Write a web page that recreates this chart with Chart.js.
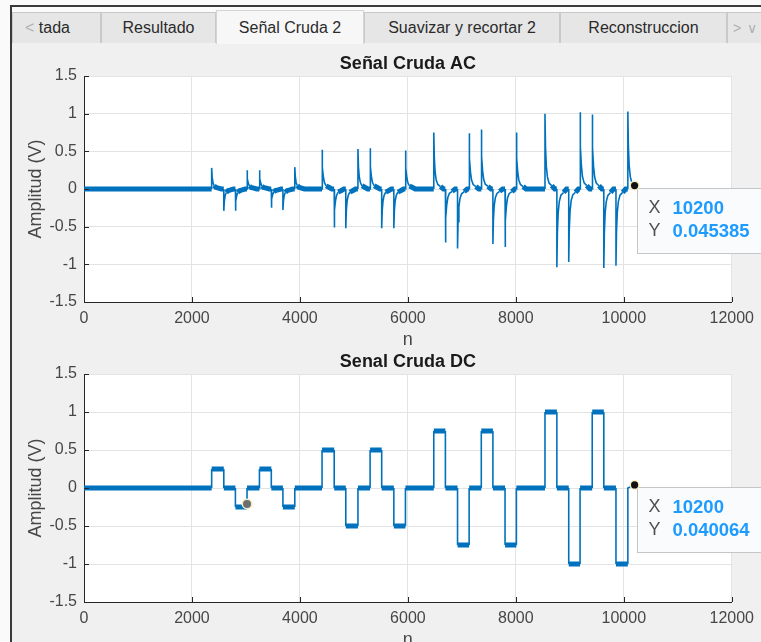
<!DOCTYPE html>
<html>
<head>
<meta charset="utf-8">
<script src="https://cdn.jsdelivr.net/npm/chart.js@4.4.0/dist/chart.umd.min.js"></script>
<style>
  html, body { margin: 0; padding: 0; width: 761px; height: 642px; overflow: hidden; background: #fafafa;
    font-family: 'Liberation Sans', Arial, sans-serif; }
  #frame { position: absolute; left: 10px; top: 5px; width: 760px; height: 650px;
    border-left: 2px solid #3a3a3a; border-top: 2px solid #3a3a3a; background: #f0f0f0; }
  #tabs { position: absolute; left: 0; top: 0; width: 760px; height: 36px; background: #fafafa; }
  .tab { position: absolute; top: 5px; height: 31px; line-height: 30px; background: #e6e6e6;
    border: 1px solid #c9c9c9; border-bottom: none; color: #2b2b2b; font-size: 16px; text-align: center;
    box-sizing: border-box; white-space: nowrap; }
  .tab.on { background: #f7f7f7; top: 3px; height: 34px; line-height: 34px; border-color: #d4d4d4; }
  .arrow { color: #b0b0b0; }
  canvas { position: absolute; }
</style>
</head>
<body>
<div id="frame">
  <div id="tabs">
    <div class="tab" style="left:0;width:89px;text-align:left;padding-left:12px"><span class="arrow">&lt;</span> tada</div>
    <div class="tab" style="left:89px;width:115px">Resultado</div>
    <div class="tab on" style="left:204px;width:148px">Señal Cruda 2</div>
    <div class="tab" style="left:352px;width:196px">Suavizar y recortar 2</div>
    <div class="tab" style="left:548px;width:167px">Reconstruccion</div>
    <div class="tab" style="left:715px;width:50px;text-align:left;padding-left:5px"><span class="arrow" style="font-size:14px">&gt;<span style="margin-left:6px">&or;</span></span></div>
  </div>
</div>
<canvas id="acChart" width="747" height="308" style="left:14px;top:46px"></canvas>
<canvas id="dcChart" width="747" height="310" style="left:14px;top:344px"></canvas>
<script>
// sample index where the raw signal switches level
const edgeN = [2365, 2590, 2805, 3020, 3250, 3470, 3685, 3905,
               4410, 4635, 4850, 5075, 5300, 5515, 5740, 5955,
               6480, 6695, 6920, 7135, 7360, 7575, 7800, 8010,
               8540, 8760, 8980, 9190, 9415, 9630, 9855, 10075];
// DC level held after each switch (V)
const dcLevel = [0.25, 0, -0.25, 0, 0.25, 0, -0.25, 0,
                 0.5, 0, -0.5, 0, 0.5, 0, -0.5, 0,
                 0.75, 0, -0.75, 0, 0.75, 0, -0.75, 0,
                 1, 0, -1, 0, 1, 0, -1, 0];
// AC spike peak at each switch (V)
const acPeak = [0.28, -0.29, -0.29, 0.25, 0.25, -0.25, -0.28, 0.29,
                0.52, -0.51, -0.52, 0.53, 0.54, -0.52, -0.52, 0.51,
                0.75, -0.71, -0.79, 0.74, 0.79, -0.73, -0.77, 0.75,
                1.0, -1.04, -0.97, 1.02, 0.99, -1.05, -1.02, 1.03];
// spike decay: samples after the edge, and fraction of the peak left
const tailN = [0, 10, 25, 45, 75, 125, 180];
const tailFrac = [1, 0.55, 0.3, 0.16, 0.08, 0.044, 0];

const lastN = 10200;
const acLast = 0.045385;
const dcLast = 0.040064;
const dcMarkN = 3020;
const dcMarkV = -0.21;

const xTicks = [0, 2000, 4000, 6000, 8000, 10000, 12000];
const yTicks = [-1.5, -1, -0.5, 0, 0.5, 1, 1.5];

const BLUE = 'rgb(0,114,189)';
Chart.defaults.font.family = "'Liberation Sans', Arial, sans-serif";

function buildAC() {
  const pts = [{x: 0, y: 0}];
  edgeN.forEach((e, i) => {
    pts.push({x: e, y: 0});
    for (let k = 0; k < tailN.length; k++) {
      const x = e + tailN[k];
      if (x >= lastN) break;
      pts.push({x: x, y: acPeak[i] * tailFrac[k]});
    }
  });
  pts.push({x: lastN, y: acLast});
  return pts;
}

function buildDC() {
  const pts = [{x: 0, y: 0}];
  let level = 0;
  edgeN.forEach((e, i) => {
    pts.push({x: e, y: level});
    pts.push({x: e, y: dcLevel[i]});
    level = dcLevel[i];
  });
  pts.push({x: lastN, y: dcLast});
  return pts;
}

// white plot box, bold title, inward ticks, data tips
const axesDecor = {
  id: 'axesDecor',
  beforeDraw(chart) {
    const a = chart.chartArea, ctx = chart.ctx;
    ctx.save(); ctx.fillStyle = '#ffffff';
    ctx.fillRect(a.left, a.top, a.right - a.left, a.bottom - a.top);
    ctx.restore();
  },
  afterDraw(chart, args, opts) {
    const a = chart.chartArea, ctx = chart.ctx;
    const xs = chart.scales.x, ys = chart.scales.y;
    ctx.save();
    ctx.strokeStyle = '#262626'; ctx.lineWidth = 1;
    ctx.beginPath();
    xTicks.forEach(v => { const p = Math.round(xs.getPixelForValue(v)) + 0.5; ctx.moveTo(p, a.bottom); ctx.lineTo(p, a.bottom - 5); });
    yTicks.forEach(v => { const p = Math.round(ys.getPixelForValue(v)) + 0.5; ctx.moveTo(a.left, p); ctx.lineTo(a.left + 5, p); });
    ctx.stroke();

    ctx.fillStyle = '#1a1a1a';
    ctx.font = "bold 18px 'Liberation Sans', Arial, sans-serif";
    ctx.textAlign = 'center'; ctx.textBaseline = 'middle';
    ctx.fillText(opts.title, (a.left + a.right) / 2, a.top - 11.5);

    (opts.marks || []).forEach(m => {
      const px = xs.getPixelForValue(m.x), py = ys.getPixelForValue(m.y);
      ctx.beginPath(); ctx.arc(px, py, 5.5, 0, Math.PI * 2); ctx.fillStyle = '#f1ecc8'; ctx.fill();
      ctx.beginPath(); ctx.arc(px, py, 4, 0, Math.PI * 2); ctx.fillStyle = '#6e6e6e'; ctx.fill();
    });

    if (opts.tip) {
      const px = xs.getPixelForValue(opts.tip.x), py = ys.getPixelForValue(opts.tip.y);
      const bx = Math.round(px) + 2.5, by = Math.round(py) + 2.5;
      ctx.fillStyle = 'rgba(250,251,252,0.97)';
      ctx.fillRect(bx, by, chart.width - bx + 5, 65);
      ctx.strokeStyle = '#c6c6c6';
      ctx.strokeRect(bx, by, chart.width - bx + 5, 65);
      ctx.beginPath(); ctx.arc(px, py, 5, 0, Math.PI * 2); ctx.fillStyle = '#f6efc2'; ctx.fill();
      ctx.beginPath(); ctx.arc(px, py, 3.6, 0, Math.PI * 2); ctx.fillStyle = '#111'; ctx.fill();
      ctx.textAlign = 'left'; ctx.textBaseline = 'middle';
      ctx.font = "18px 'Liberation Sans', Arial, sans-serif"; ctx.fillStyle = '#505050';
      ctx.fillText('X', bx + 11, by + 20);
      ctx.fillText('Y', bx + 11, by + 43);
      ctx.font = "bold 18.5px 'Liberation Sans', Arial, sans-serif"; ctx.fillStyle = '#1e9bff';
      ctx.fillText(String(opts.tip.x), bx + 35, by + 20);
      ctx.fillText(String(opts.tip.y), bx + 35, by + 43);
    }
    ctx.restore();
  }
};

function makeChart(id, data, widthFn, decor) {
  const tickFont = {size: 16};
  return new Chart(document.getElementById(id), {
    type: 'line',
    data: {
      datasets: [{
        data: data,
        borderColor: BLUE,
        borderWidth: 1.6,
        pointRadius: 0,
        tension: 0,
        segment: { borderWidth: widthFn }
      }]
    },
    options: {
      responsive: false,
      animation: false,
      events: [],
      layout: { padding: { left: 7, top: 30, right: 27, bottom: 0 } },
      plugins: { legend: { display: false }, tooltip: { enabled: false }, axesDecor: decor },
      scales: {
        x: {
          type: 'linear', min: 0, max: 12000,
          afterBuildTicks: s => { s.ticks = xTicks.map(v => ({value: v})); },
          afterFit: s => { s.height = 52; },
          ticks: { color: '#474747', font: tickFont, padding: 7, maxRotation: 0, callback: v => String(v) },
          grid: { color: '#e3e3e3', drawTicks: false },
          border: { color: '#262626', width: 1 },
          title: { display: true, text: 'n', color: '#474747', font: {size: 18}, padding: {top: 4, bottom: 3} }
        },
        y: {
          min: -1.5, max: 1.5,
          afterBuildTicks: s => { s.ticks = yTicks.map(v => ({value: v})); },
          afterFit: s => { s.width = 63; },
          ticks: { color: '#474747', font: tickFont, padding: 7, callback: v => String(v) },
          grid: { color: '#e3e3e3', drawTicks: false },
          border: { color: '#262626', width: 1 },
          title: { display: true, text: 'Amplitud (V)', color: '#474747', font: {size: 18}, padding: {top: 4, bottom: 4} }
        }
      }
    },
    plugins: [axesDecor]
  });
}

// noisy flat stretches show up as a thick band, spikes and edges as thin strokes
const acWidth = c => Math.max(Math.abs(c.p0.parsed.y), Math.abs(c.p1.parsed.y)) <= 0.05 ? 5 : 1.6;
const dcWidth = c => c.p0.parsed.y === c.p1.parsed.y ? 5 : 1.6;

makeChart('acChart', buildAC(), acWidth, { title: 'Señal Cruda AC', tip: {x: lastN, y: acLast} });
makeChart('dcChart', buildDC(), dcWidth, { title: 'Senal Cruda DC', tip: {x: lastN, y: dcLast}, marks: [{x: dcMarkN, y: dcMarkV}] });
</script>
</body>
</html>
